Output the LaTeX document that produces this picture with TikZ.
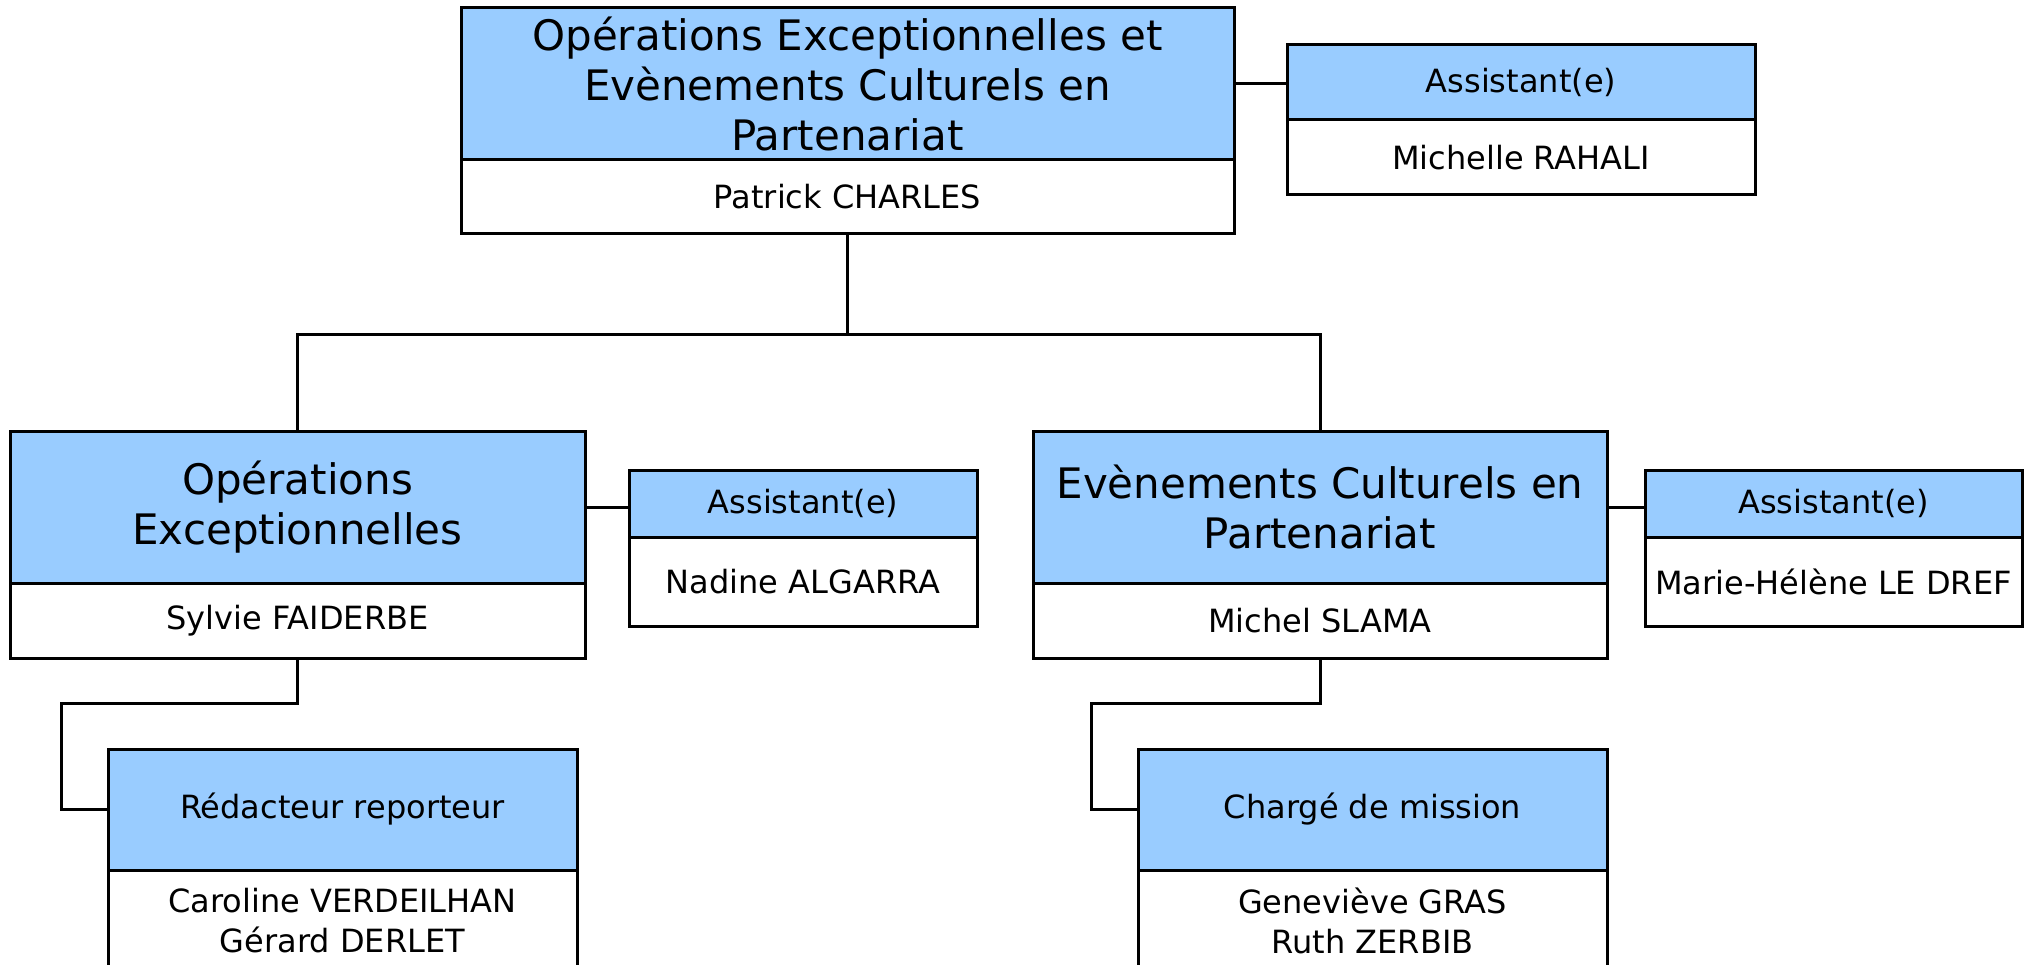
\documentclass[tikz,border=0pt]{standalone}
\usepackage{fontspec}
\setmainfont{DejaVu Sans}
\usetikzlibrary{calc}
\definecolor{hblue}{RGB}{153,204,255}
\tikzset{
  cell/.style 2 args={draw=black, line width=3pt, inner sep=0pt, align=center,
    minimum width=#1pt, minimum height=#2pt},
  hdrbig/.style={fill=hblue, font=\fontsize{42}{50}\selectfont},
  hdrsmall/.style={fill=hblue, font=\fontsize{32}{40}\selectfont},
  bodybox/.style={fill=white, font=\fontsize{32}{40}\selectfont},
  link/.style={draw=black, line width=3pt}
}
\begin{document}
\begin{tikzpicture}[x=1pt,y=-1pt]
\useasboundingbox (0,0) rectangle (2024,965);
\node[cell={773}{152}, hdrbig] (tophead) at (847.5,84) {Opérations Exceptionnelles et\\Evènements Culturels en\\Partenariat};
\node[cell={773}{74}, bodybox] (topbody) at (847.5,197) {Patrick CHARLES};
\node[cell={468}{75}, hdrsmall] (asstophead) at (1521,82.5) {Assistant(e)};
\node[cell={468}{75}, bodybox] (asstopbody) at (1521,157.5) {Michelle RAHALI};

\node[cell={575}{152}, hdrbig] (lefthead) at (297.5,507) {Opérations\\Exceptionnelles};
\node[cell={575}{75}, bodybox] (leftbody) at (297.5,620.5) {Sylvie FAIDERBE};
\node[cell={348}{67}, hdrsmall] (assleftfhead) at (803,503.5) {Assistant(e)};
\node[cell={348}{89}, bodybox] (assleftbody) at (803,581.5) {Nadine ALGARRA};

\node[cell={574}{152}, hdrbig] (righthead) at (1320,507) {Evènements Culturels en\\Partenariat};
\node[cell={574}{75}, bodybox] (rightbody) at (1320,620.5) {Michel SLAMA};
\node[cell={377}{67}, hdrsmall] (assrighthead) at (1833.5,503.5) {Assistant(e)};
\node[cell={377}{89}, bodybox] (assrightbody) at (1833.5,581.5) {Marie-Hélène LE DREF};

\node[cell={469}{121}, hdrsmall] (redachead) at (342.5,809.5) {Rédacteur reporteur};
\node[cell={469}{102}, bodybox] (redacbody) at (342.5,921) {Caroline VERDEILHAN\\Gérard DERLET};

\node[cell={469}{121}, hdrsmall] (chargehead) at (1372.5,809.5) {Chargé de mission};
\node[cell={469}{102}, bodybox] (chargebody) at (1372.5,921) {Geneviève GRAS\\Ruth ZERBIB};

% connectors
\coordinate (j) at ($(topbody.south)+(0,99)$);
\draw[link] (topbody.south) -- (j);
\draw[link] (lefthead.north) |- (j) -| (righthead.north);
\draw[link] (tophead.east) -- (tophead.east -| asstophead.west);
\draw[link] (lefthead.east) -- (lefthead.east -| assleftfhead.west);
\draw[link] (righthead.east) -- (righthead.east -| assrighthead.west);
\coordinate (lturn) at (61,703);
\coordinate (rturn) at (1091,703);
\draw[link] (leftbody.south) |- (lturn) |- (redachead.west);
\draw[link] (rightbody.south) |- (rturn) |- (chargehead.west);
\end{tikzpicture}
\end{document}
